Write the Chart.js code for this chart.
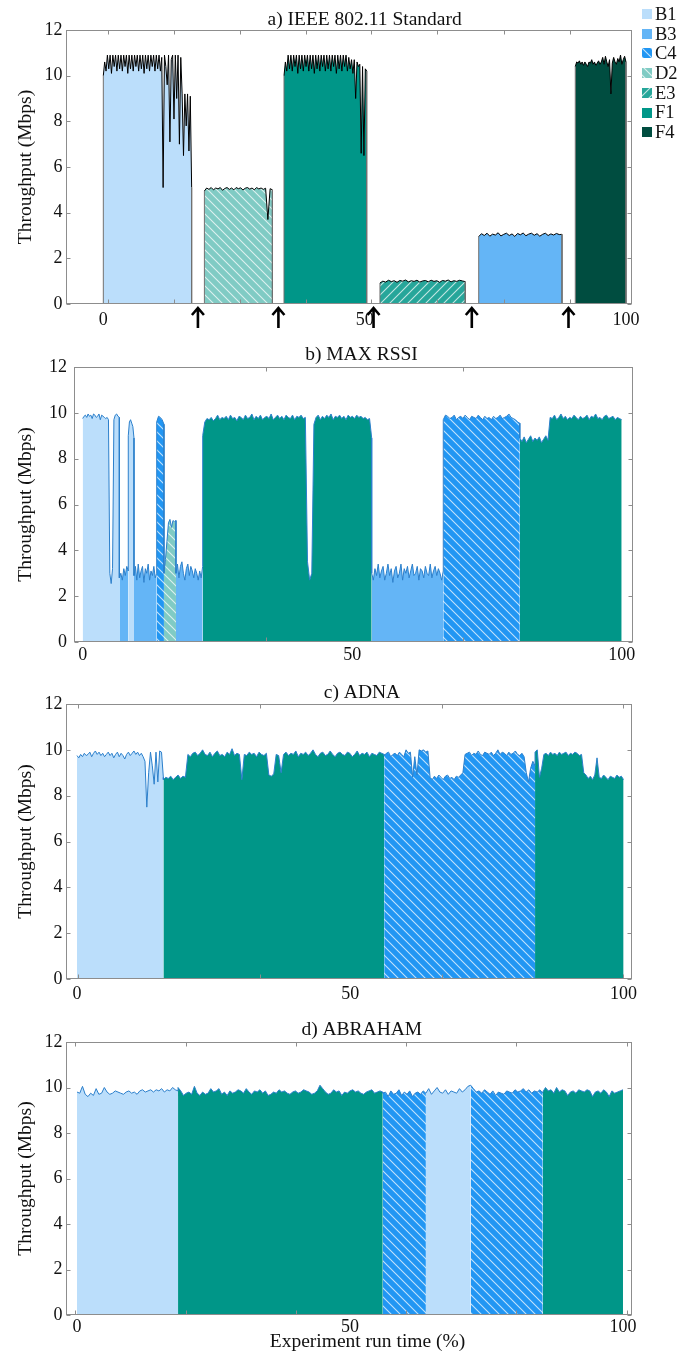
<!DOCTYPE html>
<html>
<head>
<meta charset="utf-8">
<script src="https://cdn.jsdelivr.net/npm/chart.js@4/dist/chart.umd.min.js"></script>
<style>
  html, body { margin: 0; padding: 0; background: #fff; }
  #page { position: relative; width: 692px; height: 1353px; overflow: hidden; background: #fff; }
  .panel { position: absolute; left: 0; width: 692px; }
  .panel canvas { display: block; }
</style>
</head>
<body>
<div id="page">
  <div class="panel" style="top:0px;height:340px"><canvas id="chartStd" width="692" height="340"></canvas></div>
  <div class="panel" style="top:338px;height:334px"><canvas id="chartRssi" width="692" height="334"></canvas></div>
  <div class="panel" style="top:670px;height:342px"><canvas id="chartAdna" width="692" height="342"></canvas></div>
  <div class="panel" style="top:1004px;height:349px"><canvas id="chartAbr" width="692" height="349"></canvas></div>
</div>
<script>
// ---------- shared axis values ----------
const X_LABELS = [0, 50, 100];          // experiment run time (%)
const LEGEND_APS = ['B1', 'B3', 'C4', 'D2', 'E3', 'F1', 'F4'];

// ---------- a) IEEE 802.11 Standard ----------
const STD_APS = ['B1', 'D2', 'F1', 'E3', 'B3', 'F4'];
const STD_START = [0, 19.34, 34.57, 52.93, 71.82, 90.3];
const STD_END = [16.9, 32.35, 50.39, 69.25, 87.76, 100];
const STD_HANDOVER = [18.1, 33.5, 51.7, 70.5, 89.0];
const STD_XMARKS = [0.9, 13.5, 26.1, 38.7, 51.3, 63.9, 76.6, 89.2];
const stdB1 = [10.0, 10.6, 10.2, 10.9, 10.3, 10.9, 10.1, 10.9, 10.4, 10.9, 10.2, 10.9, 10.3, 10.9, 10.2, 10.9,
  10.4, 10.9, 10.1, 10.9, 10.3, 10.9, 10.2, 10.9, 10.4, 10.9, 10.2, 10.9, 10.3, 10.9, 10.1, 10.9, 10.3, 10.9,
  10.2, 10.9, 10.4, 10.9, 10.2, 10.9, 10.3, 10.9, 10.2, 10.8,
  5.1, 10.9, 10.4, 9.6, 10.9, 7.1, 10.7, 10.9, 8.1, 10.9, 9.0, 10.9, 7.0, 10.8, 9.2, 6.5, 9.2, 7.8, 9.2, 6.7, 9.1, 5.1];
const stdD2 = [4.95, 5.08, 5.02, 5.1, 5.0, 5.08, 5.04, 5.1, 4.98, 5.06, 5.1, 5.02, 5.08, 5.0, 5.1, 5.05, 5.09,
  4.99, 5.07, 5.1, 5.03, 5.08, 5.0, 5.1, 5.04, 5.08, 5.02, 5.07, 3.7, 5.05, 5.0];
const stdF1 = [10.0, 10.6, 10.2, 10.9, 10.3, 10.9, 10.2, 10.9, 10.4, 10.9, 10.1, 10.9, 10.3, 10.9, 10.2, 10.9,
  10.4, 10.9, 10.2, 10.9, 10.3, 10.9, 10.1, 10.9, 10.3, 10.9, 10.2, 10.9, 10.4, 10.9, 10.2, 10.9, 10.3, 10.9,
  10.2, 10.9, 10.4, 10.9, 10.1, 10.9, 10.3, 10.9, 10.2, 10.9, 10.4, 10.9, 10.2, 10.8, 10.3, 10.7, 10.1,
  10.7, 9.0, 10.6, 10.4, 10.5, 6.6, 10.4, 6.5, 10.3, 10.2];
const stdE3 = [0.92, 1.0, 0.96, 1.04, 0.98, 1.02, 0.95, 1.03, 1.0, 1.05, 0.97, 1.02, 0.99, 1.04, 0.96, 1.01,
  1.03, 0.97, 1.04, 0.99, 1.02, 0.95, 1.03, 1.0, 1.05, 0.97, 1.02, 0.99, 1.04, 1.01, 0.98];
const stdB3 = [2.95, 3.08, 3.0, 3.1, 2.97, 3.06, 3.02, 3.12, 2.98, 3.05, 3.1, 3.0, 3.07, 2.96, 3.09, 3.03,
  3.11, 2.99, 3.06, 3.1, 3.01, 3.08, 2.97, 3.05, 3.1, 3.0, 3.07, 3.02, 3.09, 3.04, 3.05];
const stdF4 = [10.4, 10.6, 10.55, 10.65, 10.5, 10.6, 10.45, 10.6, 10.5, 10.4, 10.6, 10.55, 10.7, 10.5, 10.6,
  10.45, 10.55, 10.65, 10.5, 10.6, 10.8, 10.5, 10.85, 10.6, 10.4, 10.7, 9.2, 10.55, 10.8, 10.6, 10.5, 10.75,
  10.6, 10.9, 10.5, 10.7, 10.85, 10.6];

// ---------- b) MAX RSSI ----------
const RSSI_BOUNDS = [0, 6.8, 8.46, 9.52, 13.73, 15.08, 17.31, 22.26, 53.62, 66.9, 81.1, 100];
const RSSI_APS = ['B1', 'B3', 'B1', 'B3', 'C4', 'D2', 'B3', 'F1', 'B3', 'C4', 'F1'];
const RSSI_XMARKS = [34.1, 70.5];
const rssiB1a = [9.75, 9.85, 9.9, 9.8, 9.95, 9.85, 9.9, 9.75, 9.95, 9.9, 9.8, 9.85, 9.95, 9.7, 9.9, 9.85, 9.8,
  9.75, 9.8, 9.7, 3.0, 2.55, 3.2, 9.7, 9.9, 9.95, 9.85, 9.8];
const rssiB3a = [2.8, 3.0, 2.7, 3.2, 2.9, 3.3, 3.1];
const rssiB1b = [9.0, 9.6, 9.7, 9.55, 9.4, 8.9];
const rssiB3b = [2.9, 3.3, 2.7, 3.4, 2.8, 3.1, 3.3, 2.6, 3.2, 3.0, 3.4, 2.7, 3.1, 2.9, 3.3, 2.8, 3.0];
const rssiC4a = [9.6, 9.85, 9.8, 9.7, 9.5];
const rssiD2 = [3.0, 3.6, 4.4, 5.2, 5.35, 5.0, 5.3, 5.25, 5.3];
const rssiB3c = [3.0, 3.4, 2.8, 3.3, 3.5, 3.0, 2.7, 3.2, 3.4, 2.9, 3.3, 3.1, 2.8, 3.2, 3.0, 2.7, 3.1, 2.8, 3.3];
const rssiF1a = [9.0, 9.6, 9.75, 9.7, 9.8, 9.65, 9.75, 9.9, 9.7, 9.8, 9.75, 9.85, 9.7, 9.9, 9.75, 9.8, 9.65,
  9.85, 9.8, 9.7, 9.9, 9.75, 9.8, 9.95, 9.7, 9.85, 9.75, 9.9, 9.7, 9.8, 9.85, 9.75, 9.95, 9.7, 9.8, 9.9, 9.75,
  9.85, 9.7, 9.9, 9.8, 9.75, 9.9, 9.7, 9.85, 9.8, 9.9, 9.75, 9.8, 3.5, 2.7, 3.0, 9.5, 9.8, 9.9, 9.7, 9.85,
  9.75, 9.9, 9.8, 9.95, 9.7, 9.85, 9.8, 9.9, 9.75, 9.85, 9.7, 9.9, 9.8, 9.85, 9.75, 9.9, 9.8, 9.85, 9.75, 9.8,
  9.7, 9.75, 8.9];
const rssiB3d = [3.0, 2.7, 3.2, 2.9, 3.4, 2.8, 3.1, 3.3, 2.7, 3.0, 3.4, 2.9, 3.2, 2.6, 3.1, 3.3, 2.8, 3.0, 3.4,
  2.7, 3.2, 3.0, 3.3, 2.8, 3.1, 3.4, 2.9, 3.0, 3.3, 2.7, 3.2, 3.1, 2.8, 3.3, 3.0, 2.9, 3.4, 2.8, 3.1, 3.3, 2.9,
  3.2, 3.0, 2.7, 3.1];
const rssiC4b = [9.7, 9.9, 9.85, 9.75, 9.8, 9.9, 9.7, 9.8, 9.85, 9.75, 9.9, 9.8, 9.7, 9.85, 9.8, 9.75, 9.9,
  9.8, 9.7, 9.85, 9.75, 9.8, 9.7, 9.85, 9.75, 9.8, 9.9, 9.75, 9.8, 9.85, 9.95, 9.8, 9.75, 9.7, 9.6, 9.55];
const rssiF1b = [8.9, 8.75, 8.95, 8.7, 8.85, 9.0, 8.75, 8.9, 8.8, 8.95, 8.7, 8.85, 9.0, 8.8, 9.8, 9.75, 9.9,
  9.7, 9.8, 9.95, 9.75, 9.85, 9.7, 9.8, 9.75, 9.9, 9.8, 9.7, 9.85, 9.75, 9.8, 9.9, 9.7, 9.85, 9.8, 9.95, 9.75,
  9.8, 9.7, 9.85, 9.9, 9.75, 9.8, 9.85, 9.7, 9.8, 9.75, 9.7];

// ---------- c) ADNA ----------
const ADNA_BOUNDS = [0, 15.8, 56.2, 83.8, 100];
const ADNA_APS = ['B1', 'F1', 'C4', 'F1'];
const ADNA_XMARKS = [0.2, 33.5, 66.7, 99.9];
const adnaB1 = [9.75, 9.65, 9.8, 9.7, 9.85, 9.75, 9.8, 9.9, 9.7, 9.85, 9.95, 9.8, 9.9, 9.75, 9.85, 9.7, 9.8,
  9.9, 9.75, 9.85, 9.65, 9.8, 9.9, 9.7, 9.85, 9.75, 9.6, 9.8, 9.9, 9.75, 9.85, 9.95, 9.8, 9.9, 9.75, 9.85, 9.7,
  9.5, 7.5, 9.0, 9.9, 9.3, 8.5, 9.9, 8.6, 9.95, 9.9, 8.8];
const adnaF1a = [8.7, 8.8, 8.75, 8.85, 8.7, 8.8, 8.9, 8.75, 8.85, 8.8,
  9.8, 9.7, 9.85, 9.9, 9.75, 9.85, 10.0, 9.8, 9.75, 9.9, 9.7, 9.85, 9.95, 9.75, 9.8, 9.7, 9.9, 9.8, 10.05,
  9.75, 9.85, 9.8, 8.7, 9.8, 9.75, 9.9, 9.8, 9.85, 9.7, 9.9, 9.8, 9.75, 9.85, 8.9, 8.85, 8.95, 9.8, 9.75, 9.0,
  9.8, 9.9, 9.75, 9.85, 9.8, 9.95, 9.7, 9.85, 9.8, 9.9, 9.75, 9.85, 10.0, 9.8, 9.7, 9.85, 9.9, 9.75, 9.8, 9.95,
  9.8, 9.7, 9.85, 9.9, 9.8, 9.75, 9.9, 9.85, 9.7, 9.8, 9.95, 9.75, 9.85, 9.8, 9.9, 9.7, 9.85, 9.8, 9.75, 9.9,
  9.85, 9.8];
const adnaC4 = [9.75, 9.85, 9.9, 9.7, 9.8, 9.85, 9.75, 9.9, 9.8, 9.7, 10.0, 9.85, 9.9, 8.8, 9.7, 8.9, 10.0,
  9.95, 10.0, 9.9, 9.95, 8.8, 8.7, 8.85, 8.75, 8.9, 8.8, 8.7, 8.85, 8.9, 8.75, 8.8, 8.7, 8.85, 8.8, 8.9, 9.0,
  9.8, 9.85, 9.9, 9.75, 9.85, 9.8, 9.95, 9.8, 9.75, 9.9, 9.85, 9.8, 9.9, 9.75, 9.85, 10.0, 9.8, 9.9, 9.85,
  9.75, 9.9, 9.8, 9.85, 9.95, 9.8, 9.75, 9.85, 9.7, 9.0, 8.6, 9.2, 9.5, 9.3];
const adnaF1b = [9.9, 10.0, 8.8, 9.2, 9.8, 9.85, 9.75, 9.9, 9.8, 9.85, 9.75, 9.9, 9.8, 9.85, 9.9, 9.75, 9.85,
  9.8, 9.9, 9.85, 9.75, 9.8, 9.0, 8.9, 8.75, 8.85, 8.7, 8.9, 9.65, 8.8, 8.75, 8.9, 8.8, 8.7, 8.85, 8.8, 8.75,
  8.9, 8.8, 8.85, 8.7];

// ---------- d) ABRAHAM ----------
const ABR_BOUNDS = [0, 18.5, 56, 63.9, 72.1, 85.3, 100];
const ABR_APS = ['B1', 'F1', 'C4', 'B1', 'C4', 'F1'];
const ABR_XMARKS = [-0.3, 19.9, 40.1, 60.3, 80.4, 100.7];
const abrB1a = [9.8, 9.75, 10.05, 9.7, 9.6, 9.75, 9.65, 9.95, 9.7, 9.75, 10.0, 9.8, 9.7, 9.75, 9.85, 9.8, 9.75,
  9.7, 9.8, 9.85, 9.75, 9.8, 9.7, 9.85, 9.9, 9.8, 9.85, 9.9, 9.8, 9.9, 9.85, 9.95, 9.8, 9.9, 9.85, 10.0, 9.9,
  9.85];
const abrF1a = [10.0, 9.85, 9.65, 9.75, 9.8, 9.7, 10.05, 9.75, 9.65, 9.8, 9.7, 9.75, 9.95, 9.8, 9.85, 9.95,
  9.7, 9.8, 9.65, 9.85, 9.75, 9.8, 9.9, 9.85, 9.75, 9.95, 9.8, 9.7, 9.85, 9.8, 9.9, 9.75, 9.85, 9.65, 9.7, 9.8,
  9.75, 9.9, 9.8, 9.85, 9.75, 9.7, 9.8, 9.85, 9.75, 9.8, 9.9, 9.85, 9.8, 9.7, 9.75, 9.85, 10.1, 9.95, 9.8, 9.7,
  9.75, 9.9, 9.8, 9.85, 9.65, 9.8, 9.75, 9.85, 9.9, 9.8, 9.85, 9.75, 9.7, 9.8, 9.85, 9.9, 9.75, 9.8, 9.85, 9.8];
const abrC4a = [9.75, 9.8, 9.6, 9.85, 9.7, 9.75, 9.9, 9.65, 9.8, 9.7, 9.85, 9.6, 9.75, 9.8, 9.7, 9.85, 9.75];
const abrB1b = [9.75, 9.95, 9.7, 9.85, 10.0, 9.8, 9.75, 9.9, 9.7, 9.85, 9.8, 9.75, 9.95, 9.8, 9.9, 10.05, 10.1];
const abrC4b = [10.1, 9.95, 9.8, 9.85, 9.75, 9.9, 9.8, 9.7, 9.85, 9.65, 9.8, 9.75, 9.7, 9.85, 9.8, 9.75, 9.9,
  9.8, 9.85, 9.95, 9.8, 9.9, 9.75, 9.85, 9.8, 9.9, 9.75];
const abrF1b = [9.8, 10.0, 9.85, 9.9, 9.75, 10.0, 9.8, 9.9, 9.85, 9.65, 9.8, 9.85, 9.75, 9.9, 9.85, 9.8, 9.9,
  9.85, 9.6, 9.8, 9.85, 9.75, 9.9, 9.8, 9.6, 9.85, 9.75, 9.8, 9.85, 9.9];

// ---------- styling ----------
const SERIF = "'Liberation Serif', 'Times New Roman', serif";
const INK = '#111111';
const LINE_BLUE = '#2b7fcb';
const AP_STYLE = {
  B1: { color: '#bbdefb' },
  B3: { color: '#64b5f6' },
  C4: { color: '#2196f3', hatch: 'back' },
  D2: { color: '#80cbc4', hatch: 'back' },
  E3: { color: '#26a69a', hatch: 'fwd' },
  F1: { color: '#009688' },
  F4: { color: '#004d40' }
};

Chart.defaults.font.family = SERIF;
Chart.defaults.color = INK;

// diagonal white hatching on top of a base colour
function hatchPattern(base, dir) {
  const s = 9;
  const tile = document.createElement('canvas');
  tile.width = s; tile.height = s;
  const g = tile.getContext('2d');
  g.fillStyle = base;
  g.fillRect(0, 0, s, s);
  g.strokeStyle = 'rgba(255,255,255,0.72)';
  g.lineWidth = 1.1;
  g.beginPath();
  if (dir === 'back') {
    g.moveTo(-1, -1); g.lineTo(s + 1, s + 1);
    g.moveTo(-1, s - 1); g.lineTo(1, s + 1);
    g.moveTo(s - 1, -1); g.lineTo(s + 1, 1);
  } else {
    g.moveTo(-1, s + 1); g.lineTo(s + 1, -1);
    g.moveTo(-1, 1); g.lineTo(1, -1);
    g.moveTo(s - 1, s + 1); g.lineTo(s + 1, s - 1);
  }
  g.stroke();
  return g.createPattern(tile, 'repeat');
}
const AP_FILL = {};
for (const ap of Object.keys(AP_STYLE)) {
  const st = AP_STYLE[ap];
  AP_FILL[ap] = st.hatch ? hatchPattern(st.color, st.hatch) : st.color;
}

// samples of one association period, evenly spaced in run time
function spread(s, e, vals) {
  const n = vals.length - 1;
  return vals.map((y, k) => ({ x: s + (e - s) * k / n, y }));
}

// continuous run: coloured areas per associated AP plus one throughput trace
function runDatasets(bounds, aps, series) {
  const segs = aps.map((ap, i) => ({ ap, pts: spread(bounds[i], bounds[i + 1], series[i]) }));
  const trace = {
    data: segs.flatMap(s => s.pts), fill: false,
    borderColor: LINE_BLUE, borderWidth: 1, order: 0
  };
  const areas = segs.map(s => ({
    data: s.pts, fill: 'origin', backgroundColor: AP_FILL[s.ap],
    borderColor: 'rgba(0,0,0,0)', borderWidth: 0, order: 1
  }));
  return [trace, ...areas];
}

// standard roaming: throughput drops to zero between associations
function gapDatasets(starts, ends, aps, series) {
  return aps.map((ap, i) => ({
    data: [{ x: starts[i], y: 0 }, ...spread(starts[i], ends[i], series[i]), { x: ends[i], y: 0 }],
    fill: 'origin', backgroundColor: AP_FILL[ap],
    borderColor: '#000', borderWidth: 1,
    segment: {
      borderColor: c => (c.p0.parsed.y === 0 || c.p1.parsed.y === 0) ? '#707070' : '#000'
    }
  }));
}

// frame, inward tick marks, panel title, handover arrows, legend, run-time caption
const decor = {
  id: 'decor',
  afterDraw(chart, args, o) {
    const { ctx, chartArea: a, scales: { x, y } } = chart;
    const L = Math.round(a.left) + 0.5, R = Math.round(a.right) - 0.5;
    const T = Math.round(a.top) + 0.5, B = Math.round(a.bottom) - 0.5;
    ctx.save();
    ctx.strokeStyle = '#8d8d8d';
    ctx.lineWidth = 1;
    ctx.strokeRect(L, T, R - L, B - T);
    ctx.beginPath();
    for (const v of o.xMarks) {
      const px = Math.round(x.getPixelForValue(v)) + 0.5;
      if (px < L || px > R) continue;
      ctx.moveTo(px, T); ctx.lineTo(px, T + 4);
      ctx.moveTo(px, B); ctx.lineTo(px, B - 4);
    }
    for (const t of y.ticks) {
      const py = Math.round(y.getPixelForValue(t.value)) + 0.5;
      ctx.moveTo(L, py); ctx.lineTo(L + 4, py);
      ctx.moveTo(R, py); ctx.lineTo(R - 4, py);
    }
    ctx.stroke();

    ctx.fillStyle = INK;
    ctx.textAlign = 'center';
    ctx.textBaseline = 'middle';
    ctx.font = '19.5px ' + SERIF;
    ctx.fillText(o.title, o.titleX, o.titleY);
    if (o.xTitle) ctx.fillText(o.xTitle, o.xTitleX, o.xTitleY);

    if (o.arrows) {
      ctx.strokeStyle = '#000';
      ctx.lineWidth = 2.6;
      ctx.lineJoin = 'miter';
      for (const h of o.arrows) {
        const px = x.getPixelForValue(h);
        const tip = a.bottom + 3;
        ctx.beginPath();
        ctx.moveTo(px, a.bottom + 24); ctx.lineTo(px, tip + 1);
        ctx.moveTo(px - 6, tip + 8); ctx.lineTo(px, tip + 1); ctx.lineTo(px + 6, tip + 8);
        ctx.stroke();
      }
    }

    if (o.legend) {
      ctx.textAlign = 'left';
      ctx.font = '18.5px ' + SERIF;
      o.legend.forEach((ap, i) => {
        const cy = 14 + i * 19.7;
        ctx.fillStyle = AP_FILL[ap];
        ctx.fillRect(642, Math.round(cy - 5), 10, 10);
        ctx.fillStyle = INK;
        ctx.fillText(ap, 655, cy + 1);
      });
    }
    ctx.restore();
  }
};

function buildChart(id, p) {
  return new Chart(document.getElementById(id), {
    type: 'line',
    data: { datasets: p.datasets },
    options: {
      responsive: false,
      animation: false,
      events: [],
      layout: { padding: { left: 0, top: p.area.top - p.top, right: 692 - p.area.right, bottom: 0 } },
      elements: { point: { radius: 0 }, line: { tension: 0 } },
      plugins: {
        legend: { display: false },
        tooltip: { enabled: false },
        decor: p.decor
      },
      scales: {
        x: {
          type: 'linear', position: 'bottom', min: p.xMin, max: p.xMax,
          grid: { display: false, drawTicks: false }, border: { display: false },
          afterBuildTicks: s => { s.ticks = X_LABELS.map(v => ({ value: v })); },
          afterFit: s => { s.height = p.top + p.height - p.area.bottom; },
          ticks: { font: { size: 18 }, color: INK, padding: p.xPad, maxRotation: 0, autoSkip: false }
        },
        y: {
          min: 0, max: 12,
          grid: { display: false, drawTicks: false }, border: { display: false },
          afterFit: s => { s.width = p.area.left; },
          ticks: { stepSize: 2, font: { size: 18 }, color: INK, padding: p.yPad },
          title: {
            display: true, text: 'Throughput (Mbps)', color: INK,
            font: { size: 19.5, lineHeight: 1 }, padding: { top: 16, bottom: 0 }
          }
        }
      }
    },
    plugins: [decor]
  });
}

buildChart('chartStd', {
  top: 0, height: 340,
  area: { left: 66, right: 632, top: 30, bottom: 304 },
  xMin: -7.14, xMax: 101.15, xPad: 5, yPad: 3.5,
  datasets: gapDatasets(STD_START, STD_END, STD_APS, [stdB1, stdD2, stdF1, stdE3, stdB3, stdF4]),
  decor: {
    title: 'a) IEEE 802.11 Standard', titleX: 364.6, titleY: 20,
    xMarks: STD_XMARKS, arrows: STD_HANDOVER, legend: LEGEND_APS
  }
});

buildChart('chartRssi', {
  top: 338, height: 334,
  area: { left: 74, right: 633, top: 367, bottom: 642 },
  xMin: -1.61, xMax: 102.1, xPad: 2, yPad: 7,
  datasets: runDatasets(RSSI_BOUNDS, RSSI_APS,
    [rssiB1a, rssiB3a, rssiB1b, rssiB3b, rssiC4a, rssiD2, rssiB3c, rssiF1a, rssiB3d, rssiC4b, rssiF1b]),
  decor: { title: 'b) MAX RSSI', titleX: 361.5, titleY: 17, xMarks: RSSI_XMARKS }
});

buildChart('chartAdna', {
  top: 670, height: 342,
  area: { left: 66, right: 632, top: 704, bottom: 979 },
  xMin: -2.01, xMax: 101.54, xPad: 4, yPad: 3.5,
  datasets: runDatasets(ADNA_BOUNDS, ADNA_APS, [adnaB1, adnaF1a, adnaC4, adnaF1b]),
  decor: { title: 'c) ADNA', titleX: 362, titleY: 23.3, xMarks: ADNA_XMARKS }
});

buildChart('chartAbr', {
  top: 1004, height: 349,
  area: { left: 66, right: 632, top: 1042, bottom: 1315 },
  xMin: -2.02, xMax: 101.65, xPad: 1, yPad: 3.5,
  datasets: runDatasets(ABR_BOUNDS, ABR_APS, [abrB1a, abrF1a, abrC4a, abrB1b, abrC4b, abrF1b]),
  decor: {
    title: 'd) ABRAHAM', titleX: 361.8, titleY: 26, xMarks: ABR_XMARKS,
    xTitle: 'Experiment run time (%)', xTitleX: 367.5, xTitleY: 337.7
  }
});
</script>
</body>
</html>
